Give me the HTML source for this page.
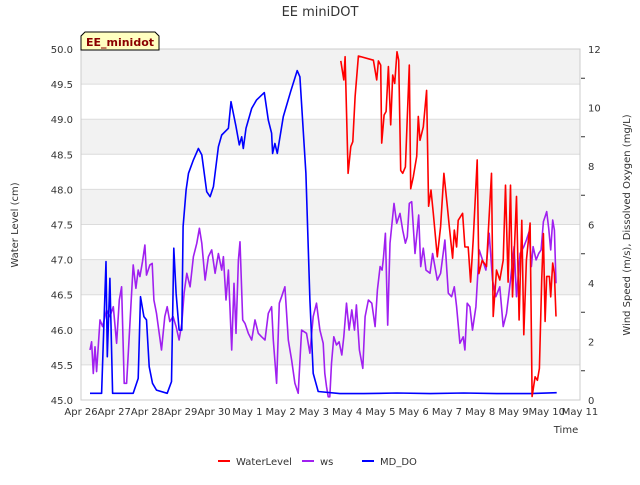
<!DOCTYPE html>
<html><head><meta charset="utf-8"><style>
body{margin:0;background:#fff;}
svg text{font-family:"DejaVu Sans","Liberation Sans",sans-serif;}
</style></head><body>
<svg id="c" width="640" height="480" xmlns="http://www.w3.org/2000/svg"></svg>
<script>
// x values: days since Apr 26
const dayLabels=["Apr 26","Apr 27","Apr 28","Apr 29","Apr 30","May 1","May 2","May 3","May 4","May 5","May 6","May 7","May 8","May 9","May 10","May 11"];
const leftTicks=[45.0,45.5,46.0,46.5,47.0,47.5,48.0,48.5,49.0,49.5,50.0];
const rightTicks=[0,2,4,6,8,10,12];
const wlDays=[7.81,7.90,7.94,8.03,8.11,8.17,8.24,8.34,8.79,8.89,8.94,9.01,9.04,9.11,9.17,9.24,9.31,9.37,9.43,9.50,9.55,9.61,9.67,9.75,9.87,9.91,9.99,10.09,10.14,10.19,10.29,10.39,10.45,10.52,10.59,10.71,10.81,10.91,11.01,11.07,11.17,11.22,11.29,11.34,11.47,11.54,11.64,11.71,11.79,11.91,11.96,12.06,12.19,12.24,12.34,12.39,12.49,12.59,12.69,12.76,12.84,12.91,12.97,13.09,13.17,13.25,13.31,13.39,13.50,13.56,13.65,13.72,13.78,13.85,13.90,13.95,14.00,14.08,14.12,14.18,14.23,14.28];
const wlVals=[49.83,49.56,49.89,48.23,48.61,48.68,49.32,49.90,49.84,49.56,49.83,49.77,48.66,49.06,49.11,49.75,48.92,49.63,49.51,49.96,49.84,48.27,48.23,48.32,49.77,48.01,48.18,48.47,49.04,48.70,48.89,49.41,47.76,47.99,47.66,47.04,47.47,48.23,47.76,47.47,47.02,47.42,47.18,47.56,47.66,47.18,47.18,46.68,47.28,48.42,46.80,46.99,46.90,47.37,48.23,46.19,46.85,46.71,46.99,48.06,46.68,48.06,46.47,47.90,46.14,47.56,45.93,46.99,47.52,45.05,45.33,45.28,45.45,46.71,47.37,46.12,46.76,46.76,46.47,46.95,46.80,46.19];
const wsDays=[0.27,0.32,0.37,0.42,0.47,0.57,0.65,0.77,0.87,0.97,1.07,1.15,1.22,1.30,1.37,1.45,1.52,1.57,1.65,1.72,1.77,1.85,1.92,1.97,2.07,2.14,2.19,2.27,2.35,2.42,2.52,2.59,2.67,2.77,2.86,2.95,3.03,3.10,3.18,3.28,3.38,3.48,3.56,3.63,3.73,3.83,3.93,4.03,4.13,4.23,4.28,4.36,4.43,4.53,4.60,4.66,4.73,4.78,4.86,4.93,5.03,5.13,5.23,5.33,5.43,5.53,5.63,5.73,5.78,5.88,5.96,6.03,6.13,6.23,6.33,6.43,6.53,6.63,6.78,6.88,6.98,7.08,7.18,7.28,7.33,7.38,7.43,7.48,7.53,7.60,7.68,7.76,7.84,7.90,7.98,8.06,8.14,8.22,8.28,8.37,8.47,8.54,8.64,8.74,8.84,8.91,8.99,9.05,9.09,9.15,9.22,9.29,9.41,9.49,9.59,9.67,9.75,9.81,9.87,9.94,10.04,10.15,10.21,10.29,10.37,10.49,10.57,10.71,10.81,10.94,11.04,11.14,11.22,11.29,11.39,11.49,11.54,11.61,11.69,11.77,11.87,11.97,12.07,12.17,12.27,12.37,12.47,12.59,12.69,12.79,12.91,13.02,13.09,13.20,13.31,13.39,13.47,13.54,13.59,13.68,13.76,13.83,13.90,13.95,14.00,14.06,14.12,14.18,14.23,14.28];
const wsVals=[1.71,1.99,0.91,1.82,0.97,2.74,2.51,3.08,2.85,3.19,1.94,3.42,3.87,0.57,0.57,2.16,3.65,4.62,3.82,4.44,4.22,4.73,5.30,4.27,4.62,4.67,3.42,2.96,2.28,1.71,2.85,3.19,2.68,2.85,2.51,2.05,2.62,3.65,4.33,3.87,4.90,5.36,5.87,5.36,4.10,4.90,5.13,4.33,5.01,4.44,4.90,3.42,4.44,1.71,3.99,2.28,4.79,5.41,2.74,2.62,2.28,2.05,2.74,2.28,2.16,2.05,2.96,3.19,2.05,0.57,3.31,3.53,3.87,2.05,1.37,0.57,0.23,2.39,2.28,1.60,2.85,3.31,2.39,1.94,0.91,0.46,0.11,0.11,1.25,2.16,1.88,1.99,1.54,2.16,3.31,2.39,3.08,2.39,3.25,1.71,1.08,2.85,3.42,3.31,2.51,3.76,4.56,4.44,4.84,5.70,2.56,5.36,6.72,6.04,6.38,5.81,5.36,5.58,6.72,6.78,5.01,6.32,4.56,5.19,4.44,4.33,5.01,4.10,4.33,5.47,3.65,3.53,3.87,3.19,1.94,2.16,1.71,3.31,3.19,2.39,3.19,5.13,4.79,4.44,5.70,4.10,3.53,3.87,2.51,2.96,4.10,5.24,3.53,5.01,5.24,5.47,5.75,4.56,5.24,4.79,5.01,5.13,6.10,6.27,6.44,5.87,5.13,6.15,5.81,3.99];
const doDays=[0.27,0.62,0.75,0.79,0.87,0.95,1.32,1.57,1.72,1.79,1.89,1.97,2.05,2.15,2.27,2.59,2.72,2.79,2.86,2.95,3.03,3.07,3.16,3.23,3.38,3.53,3.63,3.78,3.88,3.98,4.13,4.23,4.43,4.51,4.66,4.76,4.83,4.88,4.96,5.13,5.28,5.51,5.63,5.73,5.76,5.83,5.90,6.08,6.30,6.50,6.58,6.68,6.76,6.88,6.98,7.13,7.78,8.5,9.5,10.5,11.5,12.5,13.5,14.3];
const doVals=[0.23,0.23,4.73,1.48,4.16,0.23,0.23,0.23,0.74,3.53,2.85,2.74,1.14,0.57,0.34,0.23,0.63,5.19,3.65,2.39,2.39,5.93,7.18,7.75,8.21,8.60,8.38,7.12,6.95,7.29,8.66,9.06,9.29,10.20,9.35,8.72,9.00,8.60,9.29,9.97,10.26,10.51,9.57,9.12,8.43,8.77,8.43,9.69,10.54,11.26,11.05,9.23,7.75,3.42,0.91,0.29,0.22,0.22,0.24,0.22,0.24,0.22,0.22,0.25];

const X0=81,X1=580,Y0=400,Y1=49;
const xs=d=>X0+d*(X1-X0)/15;
const yl=v=>Y0-(v-45)*(Y0-Y1)/5;
const yr=v=>Y0-v*(Y0-Y1)/12;
const svg=document.getElementById('c');
const NS='http://www.w3.org/2000/svg';
function mk(tag,attrs,parent){const e=document.createElementNS(NS,tag);for(const k in attrs)e.setAttribute(k,attrs[k]);(parent||svg).appendChild(e);return e;}
function txt(s,x,y,anchor,size,extra){const t=mk('text',Object.assign({x:x,y:y,'text-anchor':anchor,'font-size':size,fill:'#333'},extra||{}));t.textContent=s;return t;}

// bands and grid
for(let i=0;i<leftTicks.length-1;i++){
  if(i%2===1){const b=mk('rect',{x:X0,y:yl(leftTicks[i+1]),width:X1-X0,height:yl(leftTicks[i])-yl(leftTicks[i+1]),fill:'#f2f2f2'});
  
  }
}
leftTicks.forEach(v=>{
  const g=mk('line',{x1:X0,x2:X1,y1:yl(v),y2:yl(v),stroke:'#dcdcdc','stroke-width':1});
  
  
  const t=txt(v.toFixed(1),73,yl(v)+4,'end',10);
  
  
});
rightTicks.forEach(v=>{
  const t=txt(String(v),588,yr(v)+4,'start',10);
  
  
});
for(let v=1;v<12;v+=2){const tk=mk('line',{x1:X1+1,x2:X1+5,y1:yr(v),y2:yr(v),stroke:'#333'});
  
  }
dayLabels.forEach((s,i)=>{
  const t=txt(s,xs(i),415,'middle',10);
  
  
});
const ax=mk('rect',{x:X0,y:Y1,width:X1-X0,height:Y0-Y1,fill:'none',stroke:'#ccc'});



function line(days,vals,ymap,color,name){
  const p=days.map((d,i)=>(i?'L':'M')+xs(d).toFixed(1)+','+ymap(vals[i]).toFixed(1)).join('');
  const e=mk('path',{d:p,fill:'none',stroke:color,'stroke-width':1.6,'stroke-linejoin':'round'});
  
  
}
line(wsDays,wsVals,yr,'#a020f0','ws-line');
line(doDays,doVals,yr,'#0000ff','md-do-line');
line(wlDays,wlVals,yl,'#ff0000','water-level-line');

const tt=txt('EE miniDOT',320,16,'middle',13,{fill:'#333'});


const xl=txt('Time',566,433,'middle',10);


const ylt=txt('Water Level (cm)',0,0,'middle',10,{transform:'translate(18,225) rotate(-90)'});


const yrt=txt('Wind Speed (m/s), Dissolved Oxygen (mg/L)',0,0,'middle',10,{transform:'translate(630,225) rotate(-90)'});



// badge
const bg=mk('g',{});


mk('path',{d:'M81,50 L81,36 L85,32 L155,32 L159,36 L159,50 Z',fill:'#ffffc0',stroke:'#000','stroke-width':1},bg);
const bt=txt('EE_minidot',120,46,'middle',11,{fill:'#8b0000','font-weight':'bold'});
bg.appendChild(bt);

// legend
const legs=[['WaterLevel','#ff0000',218],['ws','#a020f0',302],['MD_DO','#0000ff',362]];
legs.forEach(l=>{
  const g=mk('g',{});
  
  
  mk('line',{x1:l[2],x2:l[2]+12,y1:461,y2:461,stroke:l[1],'stroke-width':2},g);
  const t=txt(l[0],l[2]+18,465,'start',10);
  g.appendChild(t);
});
</script>
</body></html>
